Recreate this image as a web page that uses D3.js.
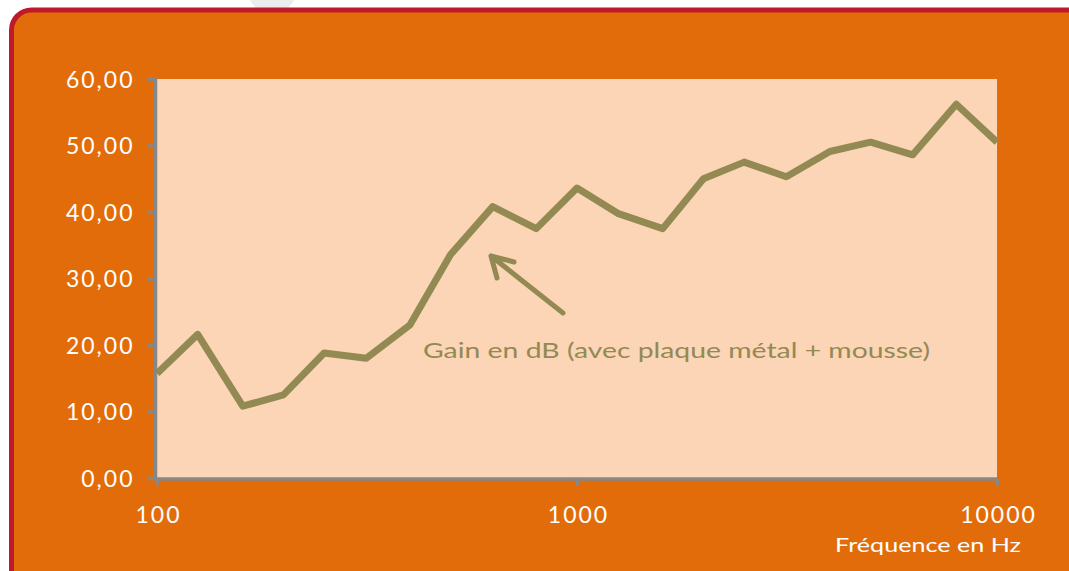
<!doctype html>
<html lang="fr">
<head>
<meta charset="utf-8">
<title>Gain en dB</title>
<script src="https://cdn.jsdelivr.net/npm/d3@7"></script>
<style>
  html, body { margin: 0; padding: 0; background: #fff; overflow: hidden; }
  svg { display: block; }
  text { font-family: Lato, "Noto Sans", sans-serif; }
</style>
</head>
<body>
<svg id="chart" width="1069" height="571"></svg>
<script>
// third-octave bands, Hz
var freqs = [100, 125, 160, 200, 250, 315, 400, 500, 630, 800, 1000,
             1250, 1600, 2000, 2500, 3150, 4000, 5000, 6300, 8000, 10000];
// gain, dB
var gains = [15.7, 21.6, 10.8, 12.5, 18.8, 18.0, 23.0, 33.6, 40.8, 37.5, 43.6,
             39.8, 37.5, 45.0, 47.5, 45.3, 49.1, 50.5, 48.6, 56.2, 50.5];
var yTicks = [0, 10, 20, 30, 40, 50, 60];
var xTicks = [100, 1000, 10000];
var seriesLabel = "Gain en dB (avec plaque métal + mousse)";
var xTitle = "Fréquence en Hz";

var svg = d3.select("#chart");
var olive = "#938953", axisGrey = "#878787";

// faint grey blob at top (behind the frame)
svg.append("circle").attr("cx", 272).attr("cy", -10).attr("r", 24).attr("fill", "#ececec");

// orange frame with red border
svg.append("rect")
  .attr("x", 11.5).attr("y", 10).attr("width", 1100).attr("height", 620)
  .attr("rx", 20).attr("ry", 20)
  .attr("fill", "#e36c0a").attr("stroke", "#c0192b").attr("stroke-width", 5);

var plotL = 157, plotR = 997, plotT = 79, plotB = 478;

var x = d3.scaleLog().domain([100, 10000]).range([plotL, plotR]);
var y = d3.scaleLinear().domain([0, 60]).range([plotB, plotT]);

svg.append("rect")
  .attr("x", plotL).attr("y", plotT).attr("width", plotR - plotL).attr("height", plotB - plotT)
  .attr("fill", "#fbd5b5");

// y axis
var yAxis = svg.append("g").attr("transform", "translate(155.5,0)")
  .call(d3.axisLeft(y).tickValues(yTicks).tickSize(8).tickPadding(13)
    .tickFormat(function(d) { return d3.format(".2f")(d).replace(".", ","); }));
yAxis.select(".domain").attr("stroke", axisGrey).attr("stroke-width", 3.5)
  .attr("d", "M-8," + y(60) + "H0V" + (plotB + 1));
yAxis.selectAll(".tick line").attr("stroke", axisGrey).attr("stroke-width", 3.5);
yAxis.selectAll(".tick text").attr("fill", "#fff").attr("font-size", 23)
  .attr("letter-spacing", 2).attr("dy", "0.36em");

// x axis
var xAxis = svg.append("g").attr("transform", "translate(0,479)")
  .call(d3.axisBottom(x).tickValues(xTicks).tickSize(7).tickPadding(21)
    .tickFormat(d3.format("d")));
xAxis.select(".domain").attr("stroke", axisGrey).attr("stroke-width", 3.5)
  .attr("d", "M" + (plotL - 2) + ",0H" + plotR);
xAxis.selectAll(".tick line").attr("stroke", axisGrey).attr("stroke-width", 3.5);
xAxis.selectAll(".tick text").attr("fill", "#fff").attr("font-size", 23)
  .attr("letter-spacing", 2).attr("dx", 1);

svg.append("text")
  .attr("x", 835).attr("y", 552)
  .attr("fill", "#fff").attr("font-size", 20)
  .attr("textLength", 186).attr("lengthAdjust", "spacingAndGlyphs")
  .text(xTitle);

// series
var line = d3.line()
  .x(function(d, i) { return x(freqs[i]); })
  .y(function(d) { return y(d); });

svg.append("path")
  .datum(gains)
  .attr("d", line)
  .attr("fill", "none")
  .attr("stroke", olive)
  .attr("stroke-width", 7)
  .attr("stroke-linejoin", "round");

// annotation arrow + label
svg.append("path")
  .attr("d", "M563,313L491,256M491,256L514,262M491,256L497,278")
  .attr("fill", "none").attr("stroke", olive).attr("stroke-width", 5)
  .attr("stroke-linecap", "round").attr("stroke-linejoin", "round");

svg.append("text")
  .attr("x", 423).attr("y", 358)
  .attr("fill", olive).attr("font-size", 22)
  .attr("textLength", 507).attr("lengthAdjust", "spacingAndGlyphs")
  .text(seriesLabel);
</script>
</body>
</html>
